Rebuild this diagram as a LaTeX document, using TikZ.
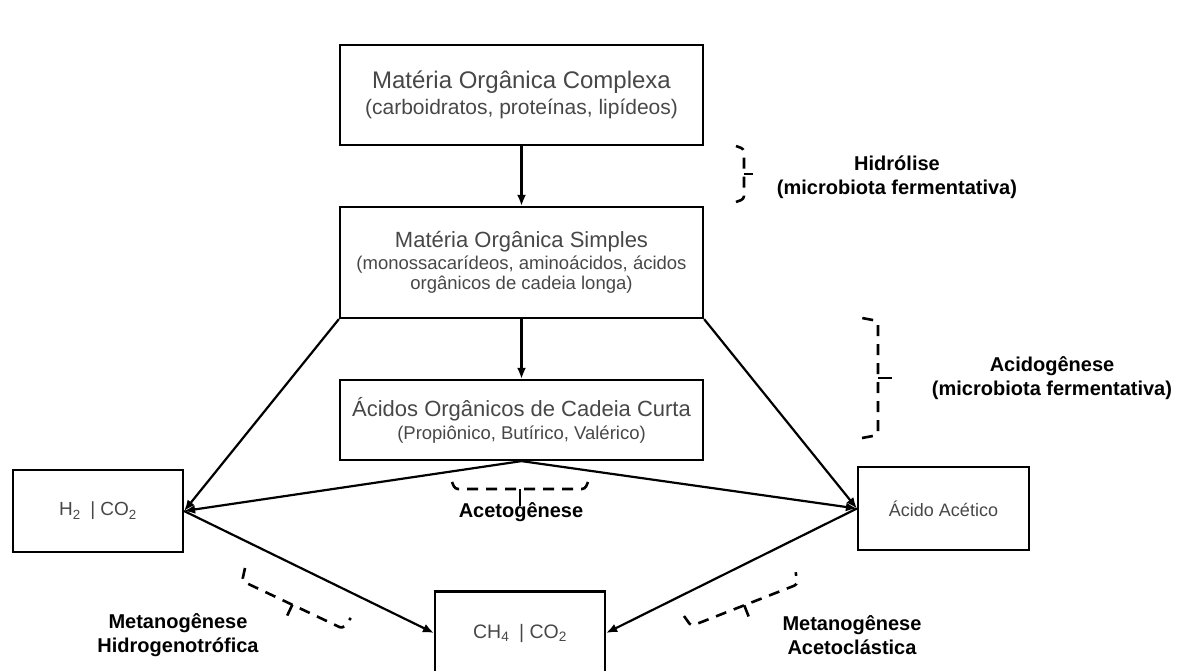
\documentclass[tikz,border=0pt]{standalone}
\usepackage{fontspec}
\setmainfont{Liberation Sans}
\usetikzlibrary{positioning,arrows.meta}

\begin{document}
\begin{tikzpicture}[x=1pt, y=-1pt,
  box/.style={rectangle, draw, line width=2.2pt, align=center,
    text=black!72, inner sep=0pt},
  flow/.style={line width=2.2pt, -{Latex[length=11pt,width=9pt]}},
  fase/.style={font=\fontsize{20}{24}\selectfont\bfseries, align=center},
  chavelinha/.style={line width=2.6pt, dash pattern=on 11pt off 8pt,
    rounded corners=3pt},
  pics/chave/.style args={#1/#2/#3}{code={
    \draw[chavelinha] (0,0) -- (3,#2) -- (#1-3,#2) -- (#1,0);
    \draw[line width=2.6pt] (#1/2,#2) -- (#1/2,#2+#3);
  }}
]
\useasboundingbox (0,0) rectangle (1189,670);

% ── Boxes ──
\node[box, minimum width=363, minimum height=100] (mc) at (521.5,95)
  {\fontsize{24}{28}\selectfont Matéria Orgânica Complexa\\[4pt]
   \fontsize{21}{25}\selectfont (carboidratos, proteínas, lipídeos)};
\node[box, minimum width=363, minimum height=111] (ms) at (521.5,262.5)
  {\fontsize{22}{25}\selectfont Matéria Orgânica Simples\\[3pt]
   \fontsize{18.5}{22}\selectfont (monossacarídeos, aminoácidos, ácidos\\[2pt]
   \fontsize{18.5}{22}\selectfont orgânicos de cadeia longa)};
\node[box, minimum width=363, minimum height=80] (ac) at (521.5,420)
  {\fontsize{22}{25}\selectfont Ácidos Orgânicos de Cadeia Curta\\[4pt]
   \fontsize{18.5}{22}\selectfont (Propiônico, Butírico, Valérico)};
\node[box, minimum width=170, minimum height=82, font=\fontsize{19}{22}\selectfont]
  (h2) at (98,511) {H\textsubscript{2}\enspace|\;CO\textsubscript{2}};
\node[box, minimum width=171, minimum height=83, font=\fontsize{18}{20}\selectfont]
  (aa) at (943.5,508.5) {Ácido Acético};
\node[box, minimum width=170, minimum height=83, font=\fontsize{19.5}{22}\selectfont]
  (ch4) at (520,633) {CH\textsubscript{4}\enspace|\;CO\textsubscript{2}};

% ── Main flow ──
\draw[flow] (mc.south) -- (ms.north);
\draw[flow] (ms.south) -- (ac.north);
\draw[flow] (ms.south west) -- (h2.east);
\draw[flow] (ms.south east) -- (aa.west);
\draw[flow] (ac.south) -- (h2.east);
\draw[flow] (ac.south) -- (aa.west);
\draw[flow] (h2.east) -- (ch4.west);
\draw[flow] (aa.west) -- (ch4.east);

% ── Phases ──
\node[fase] (hid) at (897,177) {Hidrólise\\(microbiota fermentativa)};
\node[fase] (acid) at (1052,378) {Acidogênese\\(microbiota fermentativa)};
\node[fase] (acet) at (521,512) {Acetogênese};
\node[fase] (mhid) at (178,635) {Metanogênese\\Hidrogenotrófica};
\node[fase] (mace) at (852,635) {Metanogênese\\Acetoclástica};

\pic[rotate=90] at (736,202) {chave=56/8/9};
\pic[rotate=90] at (862,438) {chave=120/16/14};
\pic at (452,482) {chave=136/7/17};
\pic[rotate=-25.3] at (245,568) {chave=117/13/12};
\pic[rotate=21.4] at (684,616) {chave=120/12/12};

\end{tikzpicture}
\end{document}
